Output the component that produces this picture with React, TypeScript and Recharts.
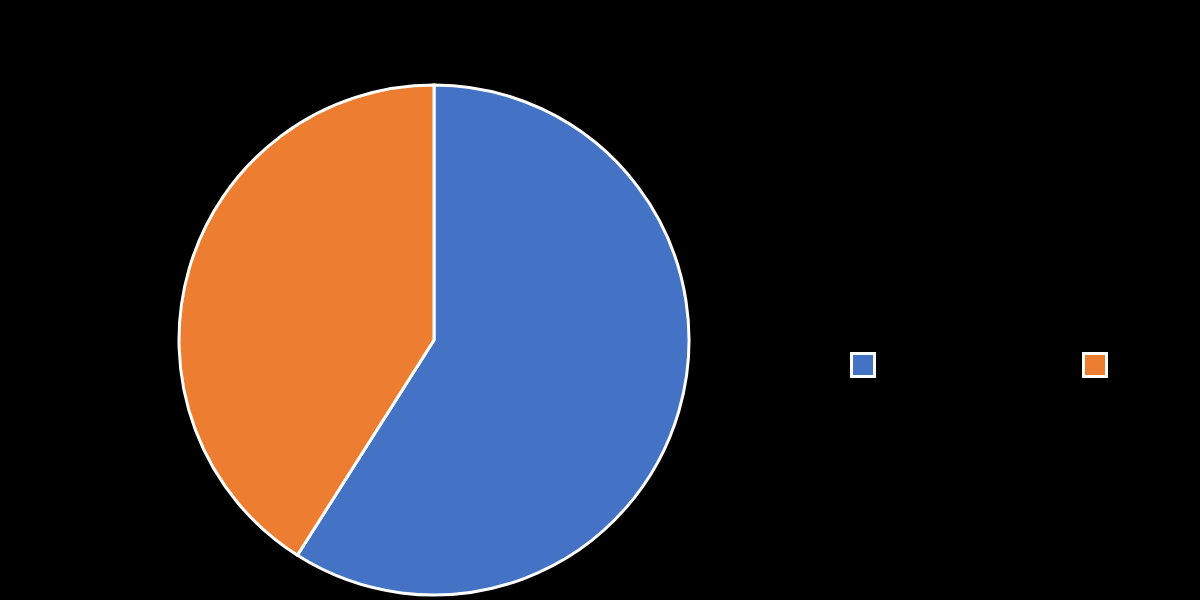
import React from "react";
import { PieChart, Pie, Cell, Legend } from "recharts";

const categories = ["Yes", "No"];
const values = [59, 41];
const colors = ["#4472C4", "#ED7D31"];

const data = categories.map((name, i) => ({ name, value: values[i], fill: colors[i] }));

const renderLegend = () => {
  return (
    <div style={{ display: "flex", flexDirection: "row", alignItems: "center" }}>
      {categories.map((name, i) => (
        <div
          key={name}
          style={{ display: "flex", alignItems: "center", width: 232, flexShrink: 0 }}
        >
          <div
            style={{
              width: 20,
              height: 20,
              background: colors[i],
              border: "3px solid #ffffff",
              boxSizing: "content-box",
              flexShrink: 0,
            }}
          />
          <span
            style={{
              marginLeft: 10,
              color: "#000000",
              fontFamily: "Calibri, 'Liberation Sans', sans-serif",
              fontSize: 24,
            }}
          >
            {name}
          </span>
        </div>
      ))}
    </div>
  );
};

export default function App() {
  return (
    <div
      style={{
        position: "absolute",
        left: 0,
        top: 0,
        width: 1200,
        height: 600,
        background: "#000000",
        overflow: "hidden",
      }}
    >
      <PieChart width={1200} height={600} margin={{ top: 0, right: 0, bottom: 0, left: 0 }}>
        <Pie
          data={data}
          dataKey="value"
          nameKey="name"
          cx={434}
          cy={340}
          outerRadius={255}
          startAngle={90}
          endAngle={-270}
          stroke="#ffffff"
          strokeWidth={3}
          isAnimationActive={false}
          label={false}
          labelLine={false}
        >
          {data.map((d, i) => (
            <Cell key={i} fill={d.fill} />
          ))}
        </Pie>
        <Legend
          content={renderLegend}
          wrapperStyle={{ left: 850, top: 350, width: 350 }}
        />
      </PieChart>
    </div>
  );
}
